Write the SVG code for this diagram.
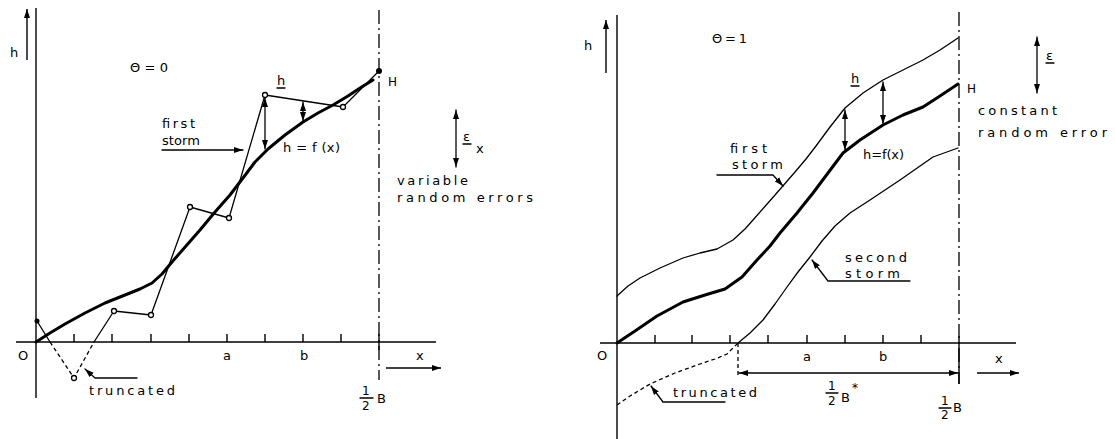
<svg xmlns="http://www.w3.org/2000/svg" width="1115" height="439" viewBox="0 0 1115 439">
<style>
  .ax{stroke:#000;stroke-width:1.4;fill:none}
  .thin{stroke:#000;stroke-width:1.3;fill:none;stroke-linejoin:round;stroke-linecap:round}
  .thick{stroke:#000;stroke-width:3;fill:none;stroke-linejoin:round;stroke-linecap:round}
  .dash{stroke:#000;stroke-width:1.3;fill:none;stroke-dasharray:4 3}
  .dd{stroke:#000;stroke-width:1.3;fill:none;stroke-dasharray:14 4 2 4}
  .arr{marker-end:url(#ah)}
  .dbl{marker-start:url(#ah);marker-end:url(#ah)}
  text{font-family:"DejaVu Sans","Liberation Sans",sans-serif;font-size:13px;fill:#000}
  .sm{font-size:12px}
  .pt{fill:#fff;stroke:#000;stroke-width:1.3}
</style>
<defs>
  <marker id="ah" markerWidth="10" markerHeight="7" refX="9" refY="3.5" orient="auto-start-reverse" markerUnits="userSpaceOnUse">
    <path d="M0,0.5 L9,3.5 L0,6.5 z" fill="#000"/>
  </marker>
</defs>
<rect width="1115" height="439" fill="#fff"/>

<!-- LEFT PANEL -->
<g id="left-axes">
  <line class="ax" x1="36" y1="8" x2="36" y2="398"/>
  <line class="ax" x1="16" y1="342" x2="436" y2="342"/>
  <path class="ax" d="M74,342V334M112,342V334M151,342V334M189,342V334M227,342V334M265,342V334M303,342V334M341,342V334"/>
  <line class="dd" x1="379" y1="10" x2="379" y2="380"/>
  <line class="ax" x1="379" y1="334" x2="379" y2="350"/>
  <line class="ax arr" x1="27" y1="60" x2="27" y2="9"/>
  <line class="ax arr" x1="386" y1="368" x2="441" y2="368"/>
</g>
<g id="left-curve-hfx">
  <polyline class="thick" points="36,342 50,333 65,324 85,313 105,303 125,295 140,289 152,283 162,274 172,262 186,246 200,230 215,212 230,195 243,178 255,162 268,149 285,135 303,122 318,113 333,105 348,96 360,88 373,80"/>
</g>
<g id="left-first-storm">
  <polyline class="thin" points="37,321 50,342"/>
  <polyline class="dash" points="50,342 74,378 94,342"/>
  <polyline class="thin" points="94,342 114,311 151,315 190,207 229,218 265,95 343,107 379,71"/>
  <circle cx="37" cy="321" r="2.5" fill="#000"/>
  <circle cx="379" cy="71" r="3" fill="#000"/>
  <circle class="pt" cx="74" cy="378" r="2.5"/>
  <circle class="pt" cx="114" cy="311" r="2.5"/>
  <circle class="pt" cx="151" cy="315" r="2.5"/>
  <circle class="pt" cx="190" cy="207" r="2.5"/>
  <circle class="pt" cx="229" cy="218" r="2.5"/>
  <circle class="pt" cx="265" cy="95" r="2.5"/>
  <circle class="pt" cx="343" cy="107" r="2.5"/>
</g>
<g id="left-connectors">
  <line class="thin dbl" x1="265" y1="98" x2="265" y2="149"/>
  <line class="thin dbl" x1="303" y1="102" x2="303" y2="121"/>
  <line class="thin dbl" x1="456" y1="110" x2="456" y2="167"/>
  <path class="thin arr" d="M162,150 L243,150"/>
  <path class="thin arr" d="M137,378 L95,378 L85,369"/>
</g>
<g id="left-labels">
  <text x="10" y="57">h</text>
  <text x="130" y="72" textLength="38">Θ = 0</text>
  <text x="277" y="85">h</text>
  <line class="thin" x1="277" y1="88" x2="285" y2="88"/>
  <text x="388" y="86" class="sm">H</text>
  <text x="162" y="128" textLength="33">first</text>
  <text x="162" y="145" textLength="38">storm</text>
  <text x="283" y="152" textLength="57">h = f (x)</text>
  <text x="463" y="141">ε</text>
  <line class="thin" x1="463" y1="144" x2="471" y2="144"/>
  <text x="476" y="153">x</text>
  <text x="397" y="185" textLength="71">variable</text>
  <text x="397" y="202" textLength="136">random errors</text>
  <text x="18" y="360">O</text>
  <text x="223" y="360">a</text>
  <text x="300" y="360">b</text>
  <text x="416" y="360">x</text>
  <text x="89" y="395" textLength="86">truncated</text>
  <text x="362" y="395" class="sm">1</text>
  <line class="thin" x1="360" y1="398" x2="373" y2="398"/>
  <text x="362" y="410" class="sm">2</text>
  <text x="377" y="403">B</text>
</g>

<!-- RIGHT PANEL -->
<g id="right-axes">
  <line class="ax" x1="617" y1="15" x2="617" y2="439"/>
  <line class="ax" x1="600" y1="343" x2="1016" y2="343"/>
  <path class="ax" d="M655,343V335M692,343V335M730,343V335M768,343V335M807,343V335M845,343V335M883,343V335M921,343V335"/>
  <line class="dd" x1="959" y1="12" x2="959" y2="384"/>
  <line class="ax" x1="959" y1="336" x2="959" y2="384"/>
  <line class="ax arr" x1="606" y1="73" x2="606" y2="20"/>
  <line class="ax arr" x1="977" y1="373" x2="1019" y2="373"/>
  <line class="dash" x1="738" y1="343" x2="738" y2="377"/>
</g>
<g id="right-first-storm">
  <polyline class="thin" points="617,296 628,286 640,278 660,268 683,258 700,253 717,249 733,240 745,229 753,220 768,203 782,187 795,172 806,159 816,146 830,127 845,108 863,93 883,80 903,70 923,60 940,50 958,38"/>
</g>
<g id="right-curve-hfx">
  <polyline class="thick" points="617,343 635,331 657,316 683,302 705,295 725,289 742,277 757,260 770,246 780,233 797,213 813,193 828,173 843,153 860,140 883,125 903,115 923,107 940,96 958,84"/>
</g>
<g id="right-second-storm">
  <polyline class="thin" points="738,343 750,333 763,320 775,304 787,287 798,272 810,257 822,241 835,226 850,213 870,200 900,180 933,157 958,148"/>
  <polyline class="dash" points="617,405 630,396 650,384 675,373 700,364 715,359 727,354 738,343"/>
</g>
<g id="right-connectors">
  <line class="thin dbl" x1="845" y1="110" x2="845" y2="150"/>
  <line class="thin dbl" x1="883" y1="82" x2="883" y2="124"/>
  <line class="thin dbl" x1="1037" y1="37" x2="1037" y2="93"/>
  <line class="thin dbl" x1="739" y1="373" x2="958" y2="373"/>
  <path class="thin arr" d="M717,175 L773,175 L783,186"/>
  <path class="thin arr" d="M910,281 L828,281 L812,260"/>
  <path class="thin arr" d="M725,402 L663,402 L651,386"/>
</g>
<g id="right-labels">
  <text x="584" y="50">h</text>
  <text x="712" y="43" textLength="35">Θ = 1</text>
  <text x="851" y="83">h</text>
  <line class="thin" x1="851" y1="86" x2="859" y2="86"/>
  <text x="967" y="93" class="sm">H</text>
  <text x="730" y="153" textLength="37">first</text>
  <text x="732" y="169" textLength="51">storm</text>
  <text x="863" y="159" textLength="41">h=f(x)</text>
  <text x="1046" y="60">ε</text>
  <line class="thin" x1="1046" y1="63" x2="1054" y2="63"/>
  <text x="978" y="115" textLength="79">constant</text>
  <text x="978" y="137" textLength="129">random error</text>
  <text x="845" y="262" textLength="62">second</text>
  <text x="845" y="278" textLength="55">storm</text>
  <text x="597" y="360">O</text>
  <text x="803" y="361">a</text>
  <text x="879" y="361">b</text>
  <text x="995" y="363">x</text>
  <text x="673" y="397" textLength="84">truncated</text>
  <text x="828" y="390" class="sm">1</text>
  <line class="thin" x1="826" y1="393" x2="838" y2="393"/>
  <text x="828" y="405" class="sm">2</text>
  <text x="841" y="402">B</text>
  <text x="852" y="392" class="sm">*</text>
  <text x="941" y="405" class="sm">1</text>
  <line class="thin" x1="939" y1="408" x2="951" y2="408"/>
  <text x="941" y="419" class="sm">2</text>
  <text x="953" y="412">B</text>
</g>
</svg>
